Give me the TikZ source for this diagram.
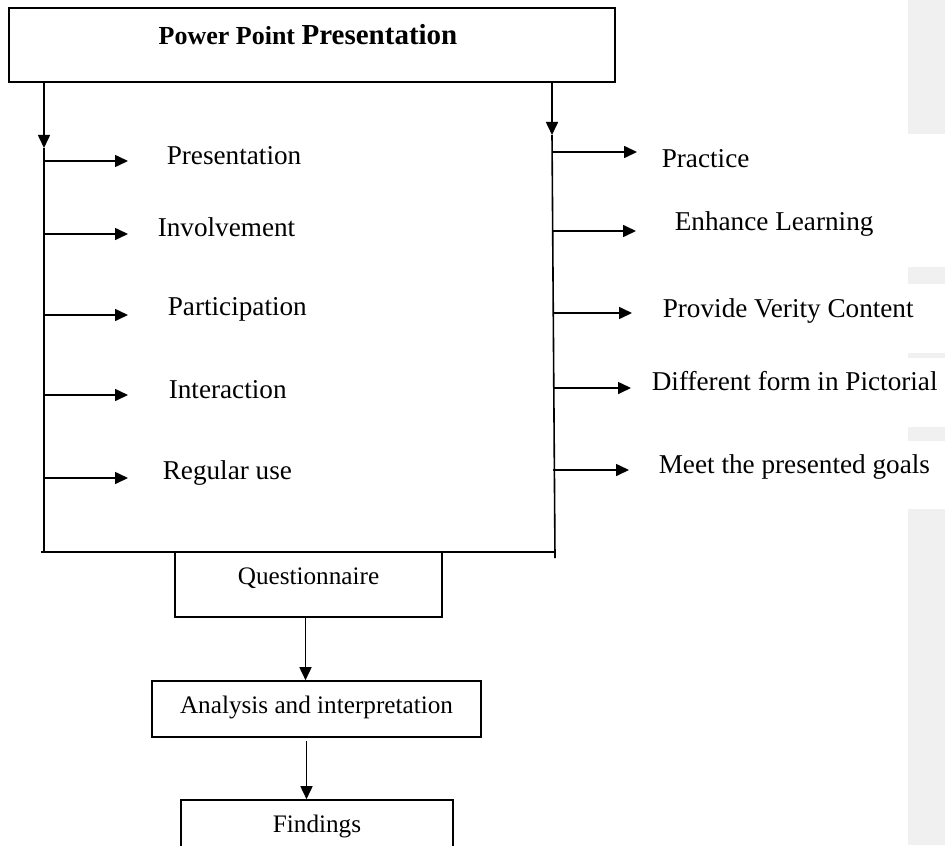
\documentclass[tikz,border=0pt]{standalone}
\usepackage{fontspec}
\setmainfont{Liberation Serif}
\usetikzlibrary{arrows.meta}

\definecolor{margingray}{HTML}{F0F0F0}

\tikzset{
	box/.style = {draw, inner sep=0pt, text height=0pt, text depth=0pt, font=\fontsize{12.6}{15}\selectfont},
	item/.style = {anchor=base west, inner sep=0pt, font=\fontsize{13.6}{16}\selectfont},
	arr/.style = {-{Triangle[length=6.5pt, width=6pt]}}
}

\begin{document}
\begin{tikzpicture}[x=0.5pt, y=-0.5pt, line width=0.8pt]
		\useasboundingbox (0,0) rectangle (945,845);
		\clip (0,0) rectangle (945,845);
		
		% grey bars at the right margin
		\fill[margingray] (908,0) rectangle (945,134);
		\fill[margingray] (908,267) rectangle (945,284);
		\fill[margingray] (908,353) rectangle (945,358);
		\fill[margingray] (908,427) rectangle (945,441);
		\fill[margingray] (908,509) rectangle (945,845);
		
		\node[draw, inner sep=0pt, minimum width=303pt, minimum height=37pt] (ppt) at (312,45) {};
		\node[anchor=base, inner sep=0pt] (title) at (308,45) {\bfseries\fontsize{13}{15}\selectfont Power Point \fontsize{14.5}{17}\selectfont Presentation};
		
		\coordinate (ltip) at (44,148);
		\coordinate (rtip) at (552,135);
		\coordinate (lbot) at (44,552);
		\coordinate (rbot) at (555,558);
		\coordinate (bl) at (41,552);
		\coordinate (br) at (555,552);
		
		\draw[arr] (ppt.south -| ltip) -- (ltip);
		\draw[arr] (ppt.south -| rtip) -- (rtip);
		\draw (ltip) -- (lbot);
		\draw (rtip) -- (rbot);
		\draw (bl) -- (br);
		
		\begin{scope}[arr]
		\foreach \y [count=\i] in {161, 234, 315, 395, 478} {
			\coordinate (ls\i) at (44,\y);
			\coordinate (le\i) at (128,\y);
			\draw (ls\i) -- (le\i);
		}
		\foreach \y/\e [count=\i] in {152/637, 231/636, 313/632, 388/631, 470/629} {
			\coordinate (rs\i) at (553,\y);
			\coordinate (re\i) at (\e,\y);
			\draw (rs\i) -- (re\i);
		}
		\end{scope}
		
		\node[item] (pres) at (166,164) {Presentation};
		\node[item] (invol) at (157,236) {Involvement};
		\node[item] (partic) at (167,315) {Participation};
		\node[item] (inter) at (168,398) {Interaction};
		\node[item] (regular) at (162,479) {Regular use};
		
		\node[item] (practice) at (661,168) {Practice};
		\node[item] (enhance) at (674,230) {Enhance Learning};
		\node[item] (verity) at (662,317) {Provide Verity Content};
		\node[item] (pictorial) at (651,390) {Different form in Pictorial};
		\node[item] (goals) at (658,473) {Meet the presented goals};
		
		\node[box, minimum width=133.5pt, minimum height=32.5pt] (quest) at (308.5,584.5) {Questionnaire};
		\node[box, text height=4pt, minimum width=164.5pt, minimum height=28pt] (anal) at (316.5,709) {Analysis and interpretation};
		\node[box, minimum width=136pt, minimum height=32pt] (find) at (317,832) {Findings};
		
		\coordinate (qa) at (305.5,0);
		\coordinate (af) at (306.5,0);
		\draw[arr] (quest.south -| qa) -- (anal.north -| qa);
		\draw[arr] ([yshift=-1.5pt]anal.south -| af) -- (find.north -| af);
	\end{tikzpicture}
\end{document}
